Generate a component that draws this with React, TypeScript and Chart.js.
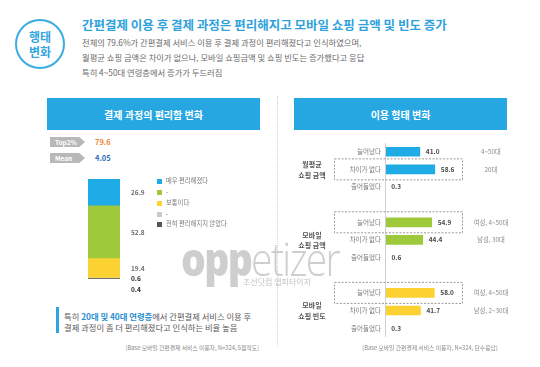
import React, { useEffect, useRef } from 'react';
import { Chart, registerables } from 'chart.js';

Chart.register(...registerables);

const FONT = '"Noto Sans CJK KR", "Noto Sans", sans-serif';

// ---- left panel data ----
const convLabels = ['매우 편리해졌다', '-', '보통이다', '-', '전혀 편리해지지 않았다'];
const convValues = [26.9, 52.8, 19.4, 0.6, 0.4];
const convColors = ['#1eabe6', '#9dc93b', '#fcd232', '#c9c9c9', '#555555'];
const top2Value = 79.6;
const meanValue = 4.05;

// ---- right panel data ----
const groupNames = [
  ['월평균', '쇼핑 금액'],
  ['모바일', '쇼핑 금액'],
  ['모바일', '쇼핑 빈도'],
];
const responseLabels = ['늘어났다', '차이가 없다', '줄어들었다'];
const monthlyAmountValues = [41.0, 58.6, 0.3];
const mobileAmountValues = [54.9, 44.4, 0.6];
const mobileFreqValues = [58.0, 41.7, 0.3];
const monthlyNotes = ['4~50대', '20대', ''];
const mobileAmountNotes = ['여성, 4~50대', '남성, 30대', ''];
const mobileFreqNotes = ['여성, 4~50대', '남성, 2~30대', ''];
const highlightRows = [1, 0, 0];
const groupColors = ['#1eabe6', '#9dc93b', '#fcd232'];

const groupValues = [monthlyAmountValues, mobileAmountValues, mobileFreqValues];
const groupNotes = [monthlyNotes, mobileAmountNotes, mobileFreqNotes];

function StackChart() {
  const ref = useRef<HTMLCanvasElement>(null);
  useEffect(() => {
    const order = [4, 3, 2, 1, 0]; // bottom -> top
    const total = convValues.reduce((a, b) => a + b, 0);
    const labelPlugin = {
      id: 'stackLabels',
      afterDatasetsDraw(chart: any) {
        const ctx = chart.ctx;
        ctx.save();
        ctx.textBaseline = 'middle';
        ctx.textAlign = 'left';
        let prevY = 0;
        for (let d = chart.data.datasets.length - 1; d >= 0; d--) {
          const el = chart.getDatasetMeta(d).data[0] as any;
          const v = chart.data.datasets[d].data[0] as number;
          let y: number;
          if (v >= 5) {
            y = (el.y + el.base) / 2;
            ctx.font = `600 6.5px ${FONT}`;
            ctx.fillStyle = '#6f6f6f';
          } else {
            y = prevY + 10.5;
            ctx.font = `bold 6.5px ${FONT}`;
            ctx.fillStyle = '#2a2a2a';
          }
          prevY = y;
          ctx.fillText(v.toFixed(1), chart.chartArea.right + 11, y);
        }
        ctx.restore();
      },
    };
    const chart = new Chart(ref.current!, {
      type: 'bar',
      data: {
        labels: [''],
        datasets: order.map((i) => ({
          label: convLabels[i],
          data: [convValues[i]],
          backgroundColor: convColors[i],
          borderWidth: 0,
          barPercentage: 1,
          categoryPercentage: 1,
        })),
      },
      options: {
        animation: false,
        responsive: false,
        maintainAspectRatio: false,
        layout: { padding: { left: 8, right: 40, top: 9, bottom: 26 } },
        plugins: { legend: { display: false }, tooltip: { enabled: false } },
        scales: {
          x: { stacked: true, display: false },
          y: { stacked: true, display: false, min: 0, max: total },
        },
      },
      plugins: [labelPlugin],
    });
    return () => chart.destroy();
  }, []);
  return (
    <canvas
      ref={ref}
      width={80}
      height={135}
      style={{ position: 'absolute', left: 80, top: 170, width: 80, height: 135 }}
    />
  );
}

function UsageChart() {
  const ref = useRef<HTMLCanvasElement>(null);
  useEffect(() => {
    const labels: string[] = [];
    const data: (number | null)[] = [];
    const colors: string[] = [];
    groupValues.forEach((vals, g) => {
      vals.forEach((v, r) => {
        labels.push(responseLabels[r]);
        data.push(v);
        colors.push(groupColors[g]);
      });
      if (g < groupValues.length - 1) {
        labels.push('');
        data.push(null);
        colors.push('transparent');
      }
    });
    const annoPlugin = {
      id: 'annotations',
      afterDatasetsDraw(chart: any) {
        const ctx = chart.ctx;
        const ca = chart.chartArea;
        const yScale = chart.scales.y;
        const meta = chart.getDatasetMeta(0);
        ctx.save();
        ctx.strokeStyle = '#d0d0d0';
        ctx.lineWidth = 1;
        ctx.beginPath();
        ctx.moveTo(ca.left + 0.5, ca.top);
        ctx.lineTo(ca.left + 0.5, ca.bottom);
        ctx.stroke();
        ctx.textBaseline = 'middle';
        groupValues.forEach((vals, g) => {
          const base = g * 4;
          vals.forEach((v, r) => {
            const idx = base + r;
            const el = meta.data[idx] as any;
            const y = yScale.getPixelForValue(idx);
            ctx.font = `bold 6.5px ${FONT}`;
            ctx.fillStyle = '#4a4a4a';
            ctx.textAlign = 'left';
            ctx.fillText(v.toFixed(1), el.x + 6, y);
            const note = groupNotes[g][r];
            if (note) {
              ctx.font = `6.3px ${FONT}`;
              ctx.fillStyle = '#8a8a8a';
              ctx.textAlign = 'center';
              ctx.fillText(note, ca.left + 106, y);
            }
          });
          const hy = yScale.getPixelForValue(base + highlightRows[g]);
          ctx.setLineDash([2, 1.5]);
          ctx.strokeStyle = '#9a9a9a';
          ctx.lineWidth = 1;
          ctx.strokeRect(ca.left - 50.5, hy - 10.5, 128, 21);
          ctx.setLineDash([]);
          const my = yScale.getPixelForValue(base + 1);
          ctx.font = `bold 7px ${FONT}`;
          ctx.fillStyle = '#555555';
          ctx.textAlign = 'center';
          ctx.fillText(groupNames[g][0], 32, my - 5);
          ctx.fillText(groupNames[g][1], 32, my + 5.5);
        });
        ctx.restore();
      },
    };
    const chart = new Chart(ref.current!, {
      type: 'bar',
      data: {
        labels,
        datasets: [
          {
            data,
            backgroundColor: colors,
            borderWidth: 0,
            barThickness: 9,
          },
        ],
      },
      options: {
        indexAxis: 'y',
        animation: false,
        responsive: false,
        maintainAspectRatio: false,
        layout: { padding: { left: 0, right: 70, top: 5, bottom: 10 } },
        plugins: { legend: { display: false }, tooltip: { enabled: false } },
        scales: {
          x: { display: false, min: 0, max: 100 },
          y: {
            afterFit: (scale: any) => {
              scale.width = 105;
            },
            grid: { display: false, drawTicks: false },
            border: { display: false },
            ticks: {
              autoSkip: false,
              padding: 4,
              color: '#7a7a7a',
              font: { family: FONT, size: 6.5 },
            },
          },
        },
      },
      plugins: [annoPlugin],
    });
    return () => chart.destroy();
  }, []);
  return (
    <canvas
      ref={ref}
      width={260}
      height={212}
      style={{ position: 'absolute', left: 280, top: 135, width: 260, height: 212 }}
    />
  );
}

const abs = (s: React.CSSProperties): React.CSSProperties => ({ position: 'absolute', ...s });

export default function App() {
  const legendTops = [181, 192, 203, 214, 224];
  return (
    <div
      style={{
        position: 'fixed',
        left: 0,
        top: 0,
        width: 540,
        height: 367,
        background: '#ffffff',
        fontFamily: FONT,
        overflow: 'hidden',
      }}
    >
      <div
        style={abs({
          left: 15,
          top: 19,
          width: 50,
          height: 50,
          boxSizing: 'border-box',
          border: '2px solid #3aace2',
          borderRadius: '50%',
          color: '#35a6de',
          fontWeight: 700,
          fontSize: 12,
          lineHeight: '15px',
          display: 'flex',
          flexDirection: 'column',
          alignItems: 'center',
          justifyContent: 'center',
        })}
      >
        <div>행태</div>
        <div>변화</div>
      </div>
      <div
        style={abs({
          left: 82,
          top: 16,
          fontSize: 12.5,
          lineHeight: '18px',
          fontWeight: 700,
          color: '#2ea2dc',
          whiteSpace: 'nowrap',
        })}
      >
        간편결제 이용 후 결제 과정은 편리해지고 모바일 쇼핑 금액 및 빈도 증가
      </div>
      <div
        style={abs({
          left: 82,
          top: 34.5,
          fontSize: 8.3,
          lineHeight: '15px',
          color: '#6a6a6a',
          whiteSpace: 'nowrap',
        })}
      >
        <div>전체의 79.6%가 간편결제 서비스 이용 후 결제 과정이 편리해졌다고 인식하였으며,</div>
        <div>월평균 쇼핑 금액은 차이가 없으나, 모바일 쇼핑금액 및 쇼핑 빈도는 증가했다고 응답</div>
        <div>특히 4~50대 연령층에서 증가가 두드러짐</div>
      </div>

      <div style={abs({ left: 277, top: 96, height: 250, borderLeft: '1px dotted #d2d2d2' })} />

      <div
        style={abs({
          left: 47,
          top: 98,
          width: 213,
          height: 32,
          background: '#27a7e1',
          color: '#fff',
          fontWeight: 700,
          fontSize: 10,
          display: 'flex',
          alignItems: 'center',
          justifyContent: 'center',
        })}
      >
        결제 과정의 편리함 변화
      </div>
      <div
        style={abs({
          left: 294,
          top: 98,
          width: 213,
          height: 32,
          background: '#27a7e1',
          color: '#fff',
          fontWeight: 700,
          fontSize: 10,
          display: 'flex',
          alignItems: 'center',
          justifyContent: 'center',
        })}
      >
        이용 형태 변화
      </div>

      {[
        { label: 'Top2%', value: top2Value.toFixed(1), color: '#ee8a3a', top: 137 },
        { label: 'Mean', value: meanValue.toFixed(2), color: '#2f6fb8', top: 153 },
      ].map((b) => (
        <React.Fragment key={b.label}>
          <div
            style={abs({
              left: 50,
              top: b.top,
              width: 35,
              height: 10,
              background: '#b8b8b8',
              clipPath: 'polygon(0 0, 84% 0, 100% 50%, 84% 100%, 0 100%)',
              color: '#fff',
              fontWeight: 700,
              fontSize: 6.5,
              lineHeight: '10px',
              paddingLeft: 5,
              boxSizing: 'border-box',
            })}
          >
            {b.label}
          </div>
          <div
            style={abs({
              left: 95,
              top: b.top,
              fontSize: 7.5,
              lineHeight: '10px',
              fontWeight: 700,
              color: b.color,
            })}
          >
            {b.value}
          </div>
        </React.Fragment>
      ))}

      <StackChart />

      {convLabels.map((l, i) => (
        <React.Fragment key={i}>
          <div
            style={abs({
              left: 157,
              top: legendTops[i] - 2.5,
              width: 5,
              height: 5,
              background: convColors[i],
            })}
          />
          <div
            style={abs({
              left: 166,
              top: legendTops[i] - 5,
              fontSize: 6.3,
              lineHeight: '10px',
              color: '#7a7a7a',
              whiteSpace: 'nowrap',
            })}
          >
            {l}
          </div>
        </React.Fragment>
      ))}

      <div style={abs({ left: 56, top: 307, width: 2.5, height: 26, background: '#2aa7e0' })} />
      <div
        style={abs({
          left: 64,
          top: 310.5,
          fontSize: 8.3,
          lineHeight: '11px',
          color: '#5a5a5a',
          whiteSpace: 'nowrap',
        })}
      >
        <div>
          특히 <span style={{ color: '#2a90d2', fontWeight: 700 }}>20대 및 40대 연령층</span>에서 간편결제 서비스 이용 후
        </div>
        <div>결제 과정이 좀 더 편리해졌다고 인식하는 비율 높음</div>
      </div>
      <div
        style={abs({
          right: 540 - 259,
          top: 344,
          fontSize: 5.8,
          lineHeight: '8px',
          color: '#8a8a8a',
          whiteSpace: 'nowrap',
        })}
      >
        [Base 모바일 간편결제 서비스 이용자, N=324, 5점척도]
      </div>

      <UsageChart />

      <div
        style={abs({
          left: 330,
          width: 200,
          textAlign: 'center',
          top: 344,
          fontSize: 5.8,
          lineHeight: '8px',
          color: '#8a8a8a',
          whiteSpace: 'nowrap',
        })}
      >
        [Base 모바일 간편결제 서비스 이용자, N=324, 단수응답]
      </div>

      <div
        style={abs({
          left: 181,
          top: 232,
          fontFamily: '"Open Sans", "Noto Sans", sans-serif',
          fontSize: 46,
          lineHeight: '52px',
          color: 'rgba(190,190,190,0.75)',
          whiteSpace: 'nowrap',
          letterSpacing: -2,
          transform: 'scaleX(0.85)',
          transformOrigin: 'left top',
          pointerEvents: 'none',
        })}
      >
        <span style={{ fontWeight: 800 }}>opp</span>
        <span style={{ fontWeight: 300 }}>etizer</span>
      </div>
      <div
        style={abs({
          left: 243,
          top: 277,
          fontSize: 8,
          lineHeight: '10px',
          color: 'rgba(180,180,180,0.8)',
          whiteSpace: 'nowrap',
          pointerEvents: 'none',
        })}
      >
        조선닷컴 앱피타이저
      </div>
    </div>
  );
}
